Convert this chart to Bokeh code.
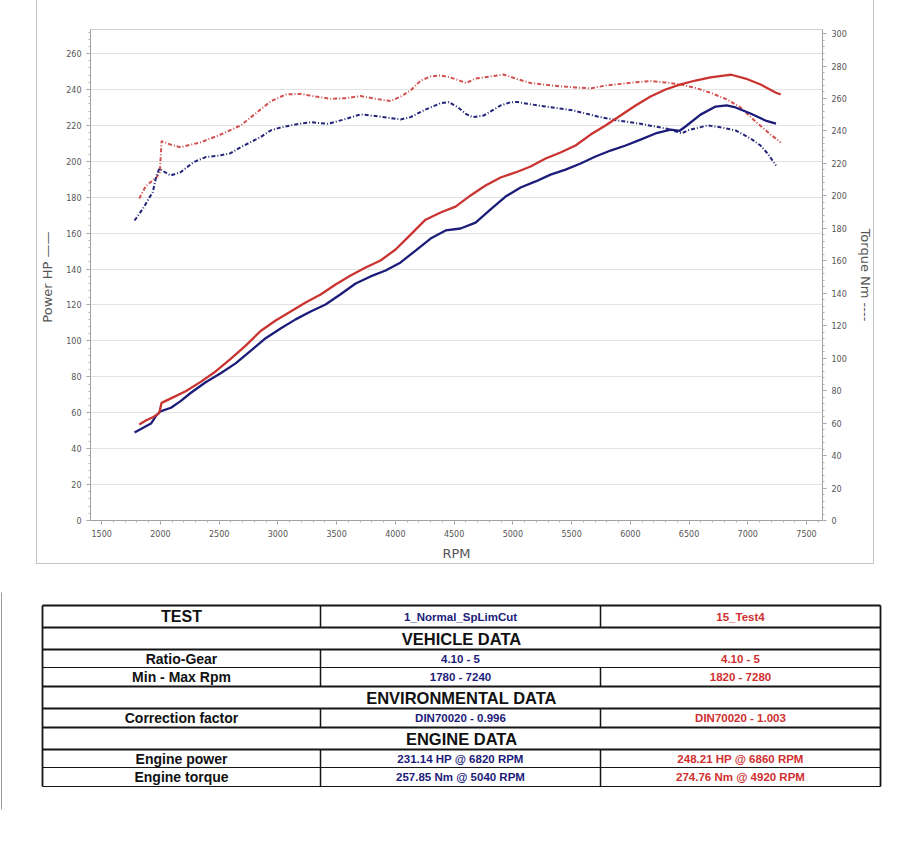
from bokeh.plotting import figure
from bokeh.models import Range1d, LinearAxis, SingleIntervalTicker
from bokeh.embed import file_html
from bokeh.resources import INLINE
from bokeh.core.properties import value

# ---- Dyno run data -------------------------------------------------------
# Run "1_Normal_SpLimCut" (blue)
blue_power_rpm = [1780, 1850, 1920, 1960, 2000, 2090, 2172, 2257, 2385, 2513, 2640, 2768,
                  2896, 3023, 3151, 3279, 3406, 3534, 3662, 3789, 3917, 4045, 4172, 4300,
                  4428, 4555, 4683, 4811, 4938, 5066, 5194, 5321, 5449, 5577, 5704, 5832,
                  5960, 6087, 6215, 6343, 6420, 6470, 6598, 6726, 6820, 6896, 7023, 7151, 7240]
blue_power_hp = [49.0, 51.5, 54.0, 58.0, 60.8, 62.8, 66.5, 71.0, 77.0, 82.0, 87.5, 94.5,
                 101.5, 106.9, 112.0, 116.4, 120.3, 126.0, 132.0, 135.9, 139.2, 143.7, 150.3, 157.0,
                 161.5, 162.6, 165.9, 173.2, 180.4, 185.4, 188.8, 192.6, 195.4, 198.8, 202.7, 206.0,
                 208.8, 212.1, 215.5, 217.7, 217.0, 219.4, 226.0, 230.5, 231.14, 230.0, 226.6, 222.7, 221.0]
blue_torque_rpm = [1780, 1850, 1900, 1935, 1965, 1990, 2087, 2172, 2283, 2385, 2500, 2598,
                   2683, 2853, 2938, 3023, 3151, 3279, 3423, 3560, 3704, 3850, 4045, 4130,
                   4250, 4385, 4455, 4530, 4600, 4657, 4751, 4896, 4981, 5040, 5125, 5321,
                   5517, 5721, 5891, 6087, 6317, 6440, 6487, 6657, 6766, 6896, 7023, 7109, 7170, 7240]
blue_torque_nm = [184.8, 192.0, 198.2, 202.3, 212.0, 216.7, 212.6, 214.6, 220.8, 223.9, 224.8, 226.3,
                  230.0, 236.2, 240.3, 242.1, 244.0, 245.4, 244.4, 247.0, 250.2, 249.0, 247.1, 248.5,
                  253.0, 257.1, 257.7, 254.7, 250.5, 248.5, 249.5, 255.7, 257.7, 257.85, 256.7, 254.6,
                  252.6, 248.9, 246.5, 244.4, 241.3, 238.5, 240.3, 243.4, 242.3, 240.3, 235.4, 231.0, 226.0, 218.7]

# Run "15_Test4" (red)
red_power_rpm = [1820, 1880, 1940, 1990, 2010, 2090, 2215, 2343, 2470, 2598, 2726, 2853,
                 2981, 3109, 3236, 3364, 3491, 3619, 3747, 3874, 4002, 4130, 4257, 4385,
                 4513, 4640, 4768, 4896, 5023, 5151, 5279, 5406, 5534, 5662, 5789, 5917,
                 6045, 6172, 6300, 6428, 6555, 6683, 6811, 6860, 6981, 7109, 7236, 7280]
red_power_hp = [53.5, 55.8, 57.6, 59.8, 65.5, 68.0, 72.0, 77.2, 83.0, 90.0, 97.4, 105.5,
                111.4, 116.4, 121.4, 125.8, 131.4, 136.4, 140.9, 144.8, 150.9, 159.2, 167.5, 171.5,
                174.8, 181.0, 186.5, 191.0, 193.8, 197.1, 201.6, 204.9, 208.8, 214.9, 219.9, 225.5,
                231.1, 236.1, 240.0, 242.8, 245.0, 246.7, 247.8, 248.21, 246.1, 242.8, 238.3, 237.2]
red_torque_rpm = [1820, 1874, 1934, 1968, 1995, 2010, 2090, 2172, 2343, 2513, 2683, 2811,
                  2938, 3066, 3194, 3321, 3449, 3577, 3704, 3832, 3960, 4045, 4130, 4215,
                  4300, 4385, 4455, 4530, 4600, 4683, 4811, 4920, 5023, 5151, 5279, 5406,
                  5534, 5662, 5789, 5917, 6045, 6172, 6300, 6428, 6555, 6683, 6811, 6938,
                  7066, 7194, 7280]
red_torque_nm = [198.4, 205.8, 209.5, 211.5, 214.4, 233.7, 231.5, 230.0, 233.0, 237.8, 243.4, 250.8,
                 258.2, 262.5, 262.8, 261.2, 259.8, 260.2, 261.5, 259.8, 258.4, 261.2, 265.0, 271.0,
                 273.6, 274.2, 273.2, 271.5, 269.5, 272.3, 273.6, 274.76, 272.3, 269.5, 268.5, 267.5,
                 266.8, 266.2, 268.0, 269.0, 270.0, 270.7, 269.9, 268.6, 266.5, 263.5, 259.8, 254.5,
                 245.8, 237.8, 232.9]

test_names = ["1_Normal_SpLimCut", "15_Test4"]
gear_ratio = ["4.10 - 5", "4.10 - 5"]
correction = ["DIN70020 - 0.996", "DIN70020 - 1.003"]

BLUE = "#1c1c7a"
RED = "#c93330"
BLUE_T = "#23237a"
RED_T = "#d25050"

# ---- Power / torque chart (panel with a light border) ----------------------
p = figure(width=838, height=564, output_backend="svg", toolbar_location=None,
           x_range=Range1d(1405, 7636), y_range=Range1d(0, 273.4),
           min_border_left=52, min_border_right=52, min_border_top=29, min_border_bottom=44,
           background_fill_color="white", border_fill_color="white")
p.styles = {"margin-left": "36px", "border-left": "1px solid #c4c4c4",
            "border-right": "1px solid #c4c4c4", "border-bottom": "1px solid #c4c4c4"}
p.extra_y_ranges = {"torque": Range1d(0, 302.5)}


def style_axis(ax):
    ax.axis_line_color = "#a0a0a0"
    ax.major_tick_line_color = "#a0a0a0"
    ax.minor_tick_line_color = "#b0b0b0"
    ax.major_tick_in = 0
    ax.major_tick_out = 4
    ax.minor_tick_in = 0
    ax.minor_tick_out = 2
    ax.major_label_text_font = "DejaVu Sans"
    ax.major_label_text_font_size = "8px"
    ax.major_label_text_color = "#555555"
    ax.axis_label_text_font = "DejaVu Sans"
    ax.axis_label_text_font_style = "normal"
    ax.axis_label_text_color = "#555555"
    ax.axis_label_text_font_size = "13px"


style_axis(p.xaxis[0])
style_axis(p.yaxis[0])
p.xaxis[0].ticker = SingleIntervalTicker(interval=500, num_minor_ticks=5)
p.yaxis[0].ticker = SingleIntervalTicker(interval=20, num_minor_ticks=5)
p.xaxis[0].axis_label = "RPM"
p.yaxis[0].axis_label = "Power  HP ——"
p.xaxis[0].axis_label_standoff = 6
p.yaxis[0].axis_label_standoff = 8

rax = LinearAxis(y_range_name="torque", ticker=SingleIntervalTicker(interval=20, num_minor_ticks=5),
                 axis_label="Torque Nm ----")
style_axis(rax)
rax.axis_label_standoff = 8
p.add_layout(rax, "right")

p.xgrid.visible = False
p.ygrid.grid_line_color = "#e2e2e2"
p.outline_line_color = "#cfcfcf"

# torque (dash-dot, right axis)
p.line(red_torque_rpm, red_torque_nm, y_range_name="torque", line_color=RED_T,
       line_width=2, line_dash="4 2 1 2")
p.line(blue_torque_rpm, blue_torque_nm, y_range_name="torque", line_color=BLUE_T,
       line_width=2, line_dash="4 2 1 2")
# power (solid, left axis)
p.line(blue_power_rpm, blue_power_hp, line_color=BLUE, line_width=2.3)
p.line(red_power_rpm, red_power_hp, line_color=RED, line_width=2.3)


# ---- Summary table --------------------------------------------------------
def peak(rpm, vals):
    i = max(range(len(vals)), key=lambda k: vals[k])
    return vals[i], rpm[i]


bp, bp_r = peak(blue_power_rpm, blue_power_hp)
rp, rp_r = peak(red_power_rpm, red_power_hp)
bt, bt_r = peak(blue_torque_rpm, blue_torque_nm)
rt, rt_r = peak(red_torque_rpm, red_torque_nm)

rows = [
    ("head", "TEST", test_names[0], test_names[1]),
    ("section", "VEHICLE DATA", None, None),
    ("data", "Ratio-Gear", gear_ratio[0], gear_ratio[1]),
    ("data", "Min - Max Rpm", f"{blue_power_rpm[0]} - {blue_power_rpm[-1]}",
     f"{red_power_rpm[0]} - {red_power_rpm[-1]}"),
    ("section", "ENVIRONMENTAL DATA", None, None),
    ("data", "Correction factor", correction[0], correction[1]),
    ("section", "ENGINE DATA", None, None),
    ("data", "Engine power", f"{bp:.2f} HP @ {bp_r} RPM", f"{rp:.2f} HP @ {rp_r} RPM"),
    ("data", "Engine torque", f"{bt:.2f} Nm @ {bt_r} RPM", f"{rt:.2f} Nm @ {rt_r} RPM"),
]

col_edges = [42, 320, 600, 880]
row_edges = [606, 628, 650, 668, 687, 709, 728, 750, 768, 787]

t = figure(width=922, height=302, output_backend="svg", toolbar_location=None,
           x_range=Range1d(0, 922), y_range=Range1d(867, 565),
           x_axis_location=None, y_axis_location=None, min_border=0,
           background_fill_color="white", border_fill_color="white")
t.grid.visible = False
t.outline_line_color = None

sx0, sy0, sx1, sy1, sw = [], [], [], [], []


def seg(a, b, c, d, w):
    sx0.append(a); sy0.append(b); sx1.append(c); sy1.append(d); sw.append(w)


# horizontal rules: heavy around header/section rows, light between data rows
for k, yy in enumerate(row_edges):
    above = rows[k - 1][0] if k > 0 else None
    below = rows[k][0] if k < len(rows) else None
    heavy = above in ("head", "section") or below in ("head", "section")
    seg(col_edges[0], yy, col_edges[-1], yy, 2.2 if heavy else 1.2)
# outer verticals
seg(col_edges[0], row_edges[0], col_edges[0], row_edges[-1], 1.8)
seg(col_edges[-1], row_edges[0], col_edges[-1], row_edges[-1], 1.8)
# inner verticals per row
for k, (kind, *_rest) in enumerate(rows):
    if kind == "section":
        continue
    y0, y1 = row_edges[k], row_edges[k + 1]
    seg(col_edges[1], y0, col_edges[1], y1, 1.5)
    if rows[k][1] != "Ratio-Gear":
        seg(col_edges[2], y0, col_edges[2], y1, 1.5)
t.segment(x0=sx0, y0=sy0, x1=sx1, y1=sy1, line_width=sw, line_color="#151515")

# page edge mark at left
t.segment(x0=[1], y0=[593], x1=[1], y1=[810], line_color="#9a9a9a", line_width=1)

full_c = (col_edges[0] + col_edges[-1]) / 2
lab_x, lab_y, lab_t, lab_s = [], [], [], []
val_x, val_y, val_t, val_c = [], [], [], []
for k, (kind, a, b, c) in enumerate(rows):
    yc = (row_edges[k] + row_edges[k + 1]) / 2
    if kind == "section":
        lab_x.append(full_c); lab_y.append(yc); lab_t.append(a); lab_s.append("16.5px")
        continue
    lab_x.append((col_edges[0] + col_edges[1]) / 2); lab_y.append(yc); lab_t.append(a)
    lab_s.append("16px" if kind == "head" else "14px")
    val_x += [(col_edges[1] + col_edges[2]) / 2, (col_edges[2] + col_edges[3]) / 2]
    val_y += [yc, yc]
    val_t += [b, c]
    val_c += [BLUE, "#cf2f2f"]

t.text(x=lab_x, y=lab_y, text=lab_t, text_font_size=lab_s, text_align="center",
       text_baseline="middle", text_font=value("Liberation Sans"), text_font_style="bold",
       text_color="#111111")
t.text(x=val_x, y=val_y, text=val_t, text_color=val_c, text_font_size="11.5px",
       text_align="center", text_baseline="middle", text_font=value("Liberation Sans"),
       text_font_style="bold")

open("out.html", "w").write(file_html([p, t], INLINE))
